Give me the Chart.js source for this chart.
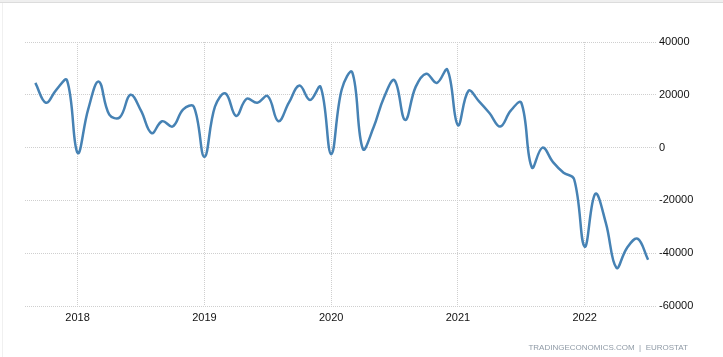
<!DOCTYPE html>
<html>
<head>
<meta charset="utf-8">
<script src="https://cdn.jsdelivr.net/npm/chart.js@4"></script>
<style>
html,body{margin:0;padding:0;background:#fff;}
#wrap{position:relative;width:723px;height:357px;}
</style>
</head>
<body>
<div id="wrap"><canvas id="c" width="723" height="357"></canvas></div>
<script>
const months = [
 'Sep 2017','Oct 2017','Nov 2017','Dec 2017',
 'Jan 2018','Feb 2018','Mar 2018','Apr 2018','May 2018','Jun 2018','Jul 2018','Aug 2018','Sep 2018','Oct 2018','Nov 2018','Dec 2018',
 'Jan 2019','Feb 2019','Mar 2019','Apr 2019','May 2019','Jun 2019','Jul 2019','Aug 2019','Sep 2019','Oct 2019','Nov 2019','Dec 2019',
 'Jan 2020','Feb 2020','Mar 2020','Apr 2020','May 2020','Jun 2020','Jul 2020','Aug 2020','Sep 2020','Oct 2020','Nov 2020','Dec 2020',
 'Jan 2021','Feb 2021','Mar 2021','Apr 2021','May 2021','Jun 2021','Jul 2021','Aug 2021','Sep 2021','Oct 2021','Nov 2021','Dec 2021',
 'Jan 2022','Feb 2022','Mar 2022','Apr 2022','May 2022','Jun 2022','Jul 2022'
];
const values = [
 24500, 17000, 22000, 25500,
 -2000, 14500, 25000, 12500, 11500, 20000, 14000, 5500, 10000, 8000, 14500, 15500,
 -3500, 15500, 20500, 12000, 18500, 17000, 19500, 10000, 17000, 23500, 18000, 23000,
 -2500, 22000, 28500, -500, 7500, 19000, 25500, 10500, 23000, 28000, 24500, 29500,
 8500, 21500, 17500, 13000, 8000, 14000, 17000, -7500, 0, -5500, -9500, -12000,
 -37500, -17500, -28500, -45500, -38000, -34500, -42500
];
const yearTicks = ['2018','2019','2020','2021','2022'];
const yTicks = [-60000, -40000, -20000, 0, 20000, 40000];
const sourceText = 'TRADINGECONOMICS.COM  |  EUROSTAT';

const points = values.map((v, i) => ({x: i, y: v}));
const yearIdx = yearTicks.map(y => months.indexOf('Jan ' + y));

const decor = {
  id: 'decor',
  beforeDraw(chart) {
    const ctx = chart.ctx;
    ctx.save();
    ctx.fillStyle = '#efefef';
    ctx.fillRect(0, 0, 723, 2);
    ctx.fillStyle = '#dcdcdc';
    ctx.fillRect(0, 2, 723, 1);
    ctx.fillStyle = '#f0f0f0';
    ctx.fillRect(2, 3, 1, 354);
    ctx.restore();
  },
  afterDraw(chart) {
    const ctx = chart.ctx;
    ctx.save();
    ctx.font = '8px "Liberation Sans", Arial, sans-serif';
    ctx.fillStyle = '#8f9aa6';
    ctx.textAlign = 'right';
    ctx.textBaseline = 'middle';
    ctx.fillText(sourceText, 688, 348);
    ctx.restore();
  }
};

new Chart(document.getElementById('c'), {
  type: 'line',
  data: {
    datasets: [{
      data: points,
      borderColor: '#4682b4',
      borderWidth: 2.5,
      pointRadius: 0,
      tension: 0.4,
      fill: false
    }]
  },
  options: {
    responsive: false,
    animation: false,
    events: [],
    layout: {padding: {left: 25, top: 42, right: 0, bottom: 0}},
    plugins: {legend: {display: false}, tooltip: {enabled: false}},
    scales: {
      x: {
        type: 'linear',
        min: -0.98,
        max: 58.75,
        afterBuildTicks(scale) { scale.ticks = yearIdx.map(v => ({value: v})); },
        afterFit(scale) { scale.height = 51; },
        grid: {color: '#cfcfcf', lineWidth: 1, drawTicks: false},
        border: {display: false, dash: [1, 1]},
        ticks: {
          padding: 5,
          color: '#111',
          font: {family: '"Liberation Sans", Arial, sans-serif', size: 11},
          callback: (v) => months[v] ? months[v].slice(4) : ''
        }
      },
      y: {
        position: 'right',
        min: -60000,
        max: 40000,
        afterBuildTicks(scale) { scale.ticks = yTicks.map(v => ({value: v})); },
        afterFit(scale) { scale.width = 67; },
        grid: {color: '#cfcfcf', lineWidth: 1, drawTicks: false},
        border: {display: false, dash: [1, 1]},
        ticks: {
          padding: 3,
          color: '#111',
          font: {family: '"Liberation Sans", Arial, sans-serif', size: 11},
          callback: (v) => String(v)
        }
      }
    }
  },
  plugins: [decor]
});
</script>
</body>
</html>
